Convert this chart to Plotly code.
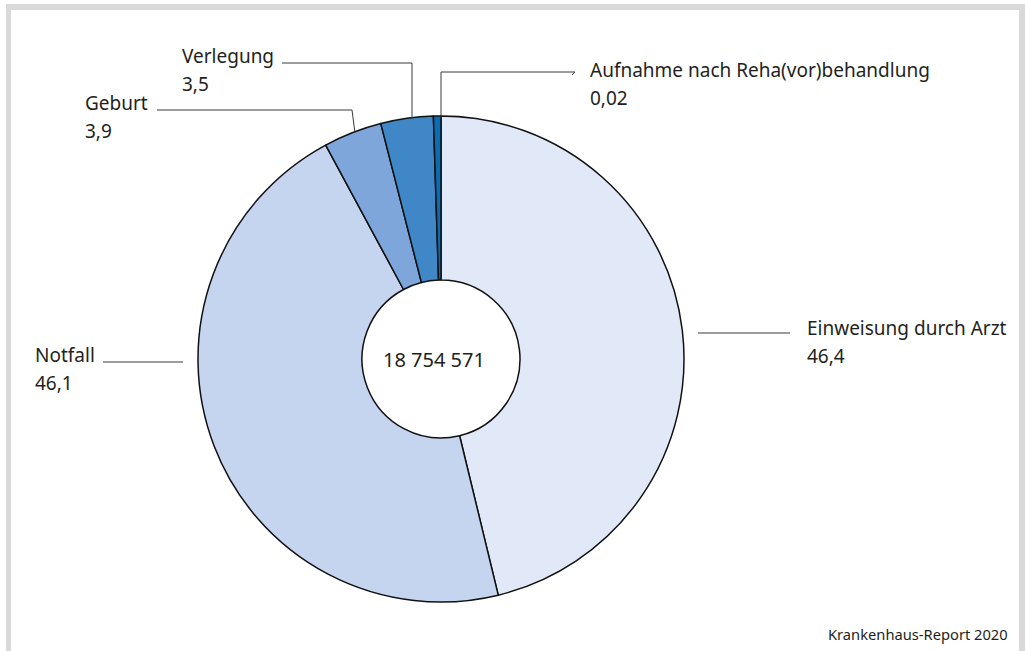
import plotly.graph_objects as go

# data
categories = ['Einweisung durch Arzt', 'Notfall', 'Geburt', 'Verlegung',
              'Aufnahme nach Reha(vor)behandlung']
value_labels = ['46,4', '46,1', '3,9', '3,5', '0,02']
# slice sizes as drawn in the picture (the tiny Reha slice is drawn wider than 0,02)
slice_shares = [46.4, 46.1, 3.9, 3.5, 0.5]
colors = ['#e1e8f7', '#c5d5f0', '#7ea6da', '#3f87c6', '#0a6db4']
total_label = '18 754 571'
source = 'Krankenhaus-Report 2020'

W, H = 1025, 651
FONT = 'Noto Sans'
TXT = '#231f20'


def px(x, y):
    # pixel -> paper coords
    return x / W, 1 - y / H


cx, cy, r = 441, 359, 243

fig = go.Figure(
    go.Pie(
        labels=categories,
        values=slice_shares,
        sort=False,
        direction='clockwise',
        rotation=0,
        hole=0.325,
        textinfo='none',
        hoverinfo='label',
        marker=dict(colors=colors, line=dict(color='#111111', width=1.5)),
        domain=dict(x=[(cx - r) / W, (cx + r) / W],
                    y=[1 - (cy + r) / H, 1 - (cy - r) / H]),
    )
)

# label positions (left x, centre y of name line)
label_pos = [(805, 328), (33, 355), (83, 103), (180, 56), (588, 70)]

annotations = []
for name, val, (lx, ly) in zip(categories, value_labels, label_pos):
    for txt, yy in ((name, ly), (val, ly + 28)):
        x, y = px(lx, yy)
        annotations.append(dict(x=x, y=y, xref='paper', yref='paper', text=txt,
                                showarrow=False, xanchor='left', yanchor='middle',
                                font=dict(family=FONT, size=19, color=TXT)))

x, y = px(cx - 7, cy)
annotations.append(dict(x=x, y=y, xref='paper', yref='paper', text=total_label,
                        showarrow=False, xanchor='center', yanchor='middle',
                        font=dict(family=FONT, size=20, color=TXT)))
x, y = px(1010, 634)
annotations.append(dict(x=x, y=y, xref='paper', yref='paper', text=source,
                        showarrow=False, xanchor='right', yanchor='middle',
                        font=dict(family=FONT, size=14.7, color=TXT)))

# leader lines (polylines in pixels)
leaders = [
    [(698, 333), (790, 333)],
    [(103, 362), (183, 362)],
    [(157, 110), (352, 110), (355, 133)],
    [(282, 63), (412, 63), (412, 118)],
    [(441, 118), (441, 72), (575, 72), (572, 75)],
]
shapes = []
for pts in leaders:
    path = ''
    for i, (a, b) in enumerate(pts):
        x, y = px(a, b)
        path += ('M' if i == 0 else 'L') + f' {x} {y} '
    shapes.append(dict(type='path', xref='paper', yref='paper', path=path,
                       line=dict(color='#3a3a3a', width=1)))

# grey frame (top, left, right)
for x0, y0, x1, y1 in [(6, 4, 1025, 10), (6, 4, 11, 651), (1019, 4, 1025, 651)]:
    a, b = px(x0, y1)
    c, d = px(x1, y0)
    shapes.append(dict(type='rect', xref='paper', yref='paper', x0=a, y0=b, x1=c, y1=d,
                       fillcolor='#d9d9d9', line=dict(width=0), layer='below'))

fig.update_layout(
    width=W, height=H,
    margin=dict(l=0, r=0, t=0, b=0),
    showlegend=False,
    paper_bgcolor='white',
    plot_bgcolor='white',
    annotations=annotations,
    shapes=shapes,
)

fig.write_html('out.html', config={'displayModeBar': False},
               post_script="document.body.style.margin='0';")
